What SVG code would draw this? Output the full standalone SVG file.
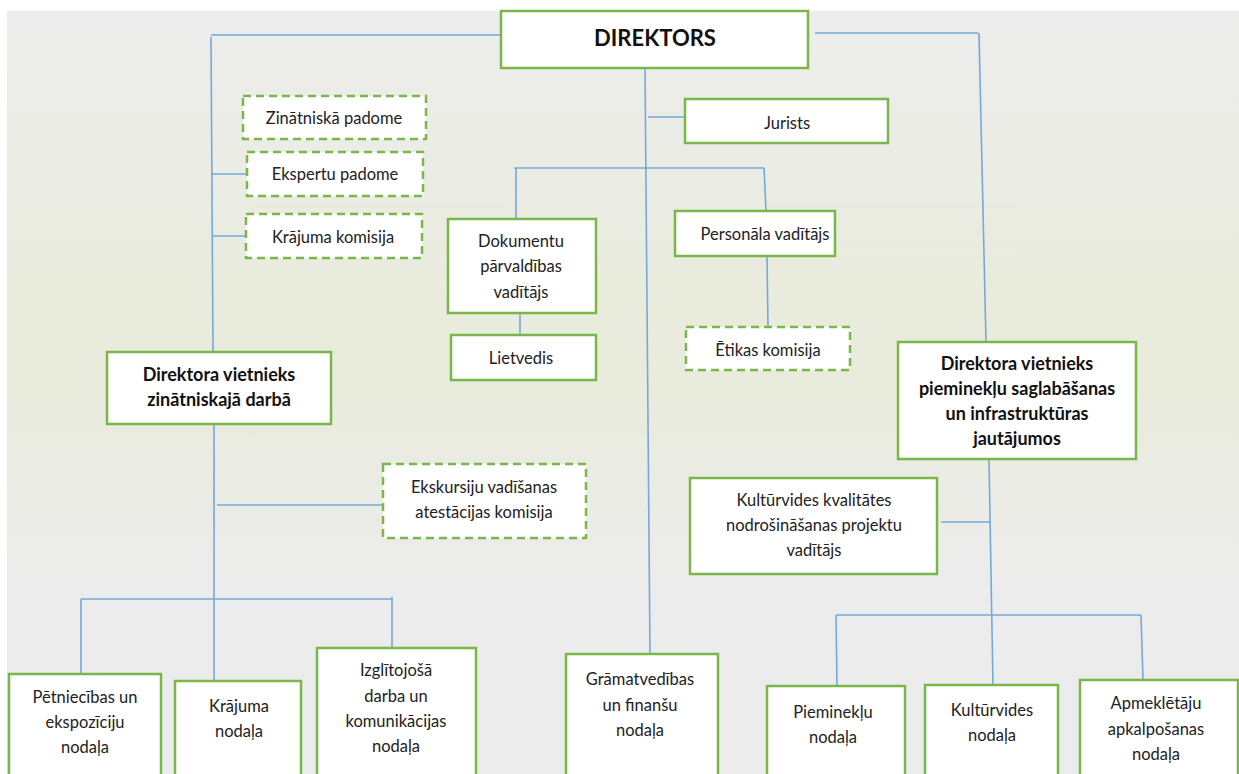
<svg xmlns="http://www.w3.org/2000/svg" width="1239" height="774" viewBox="0 0 1239 774">
<defs>
<linearGradient id="bg" x1="0" y1="0" x2="0" y2="1">
<stop offset="0" stop-color="#ededed"/>
<stop offset="0.38" stop-color="#e9ebdc"/>
<stop offset="0.5" stop-color="#e9ebdd"/>
<stop offset="0.75" stop-color="#ececec"/>
<stop offset="1" stop-color="#ececec"/>
</linearGradient>
<style>
.b{fill:#fff;stroke:#7ab648;stroke-width:2.5}
.d{fill:#fff;stroke:#7ab648;stroke-width:2.5;stroke-dasharray:8 5}
.t{font-family:Lato,"Open Sans","Liberation Sans",sans-serif;font-size:16.5px;fill:#222;text-anchor:middle}
.tb{font-family:Lato,"Open Sans","Liberation Sans",sans-serif;font-size:18px;font-weight:bold;fill:#111;text-anchor:middle}
.c{fill:none;stroke:#74a9da;stroke-width:1.6}
</style>
</defs>
<rect x="0" y="0" width="1239" height="774" fill="#fff"/>
<rect x="7" y="11" width="1232" height="763" fill="url(#bg)"/>
<g id="connectors">
<path class="c" d="M501 35 H211 M211 37 L213 352"/>
<path class="c" d="M211 174 H247 M212 236 H246"/>
<path class="c" d="M815 33 H978 M979 33 L986 342"/>
<path class="c" d="M645 68 L650 654 M648 117 H685"/>
<path class="c" d="M514 168 H764 M516 168 V219 M764 168 L766 211"/>
<path class="c" d="M520 313 V335 M767 256 L768 327"/>
<path class="c" d="M214 424 L214 680 M217 505 H383"/>
<path class="c" d="M81 599 H392 M81 599 V674 M392 597 V648"/>
<path class="c" d="M989 459 L993 686 M941 522 H990"/>
<path class="c" d="M836 615 H1141 M836 615 L837 686 M1141 615 L1143 680"/>
</g>
<g id="n-direktors"><rect class="b" x="501" y="11" width="307" height="57"/><text class="tb" x="655" y="46" style="font-size:22px">DIREKTORS</text></g>
<g id="n-zinpad"><rect class="d" x="243" y="96" width="183" height="43"/><text class="t" x="334" y="124">Zinātniskā padome</text></g>
<g id="n-ekspad"><rect class="d" x="247" y="152" width="176" height="44"/><text class="t" x="335" y="180">Ekspertu padome</text></g>
<g id="n-krkom"><rect class="d" x="246" y="214" width="176" height="44"/><text class="t" x="333" y="243">Krājuma komisija</text></g>
<g id="n-dok"><rect class="b" x="448" y="219" width="148" height="94"/><text class="t" x="521" y="247">Dokumentu</text><text class="t" x="521" y="272">pārvaldības</text><text class="t" x="521" y="298">vadītājs</text></g>
<g id="n-liet"><rect class="b" x="451" y="335" width="145" height="45"/><text class="t" x="521" y="364">Lietvedis</text></g>
<g id="n-jur"><rect class="b" x="685" y="99" width="203" height="44"/><text class="t" x="787" y="129">Jurists</text></g>
<g id="n-pers"><rect class="b" x="675" y="211" width="160" height="45"/><text class="t" x="765" y="240">Personāla vadītājs</text></g>
<g id="n-etik"><rect class="d" x="686" y="327" width="164" height="43"/><text class="t" x="768" y="356">Ētikas komisija</text></g>
<g id="n-vietzin"><rect class="b" x="107" y="352" width="224" height="72"/><text class="tb" x="219" y="381">Direktora vietnieks</text><text class="tb" x="219" y="406">zinātniskajā darbā</text></g>
<g id="n-vietpiem"><rect class="b" x="898" y="342" width="238" height="117"/><text class="tb" x="1017" y="370">Direktora vietnieks</text><text class="tb" x="1017" y="395">pieminekļu saglabāšanas</text><text class="tb" x="1017" y="420">un infrastruktūras</text><text class="tb" x="1017" y="445">jautājumos</text></g>
<g id="n-eksk"><rect class="d" x="383" y="464" width="203" height="74"/><text class="t" x="484" y="493">Ekskursiju vadīšanas</text><text class="t" x="484" y="518">atestācijas komisija</text></g>
<g id="n-kvp"><rect class="b" x="690" y="478" width="247" height="96"/><text class="t" x="814" y="506">Kultūrvides kvalitātes</text><text class="t" x="814" y="531">nodrošināšanas projektu</text><text class="t" x="814" y="556">vadītājs</text></g>
<g id="n-petn"><rect class="b" x="9" y="674" width="152" height="110"/><text class="t" x="85" y="703">Pētniecības un</text><text class="t" x="85" y="728">ekspozīciju</text><text class="t" x="85" y="753">nodaļa</text></g>
<g id="n-kraj"><rect class="b" x="175" y="681" width="126" height="103"/><text class="t" x="239" y="712">Krājuma</text><text class="t" x="239" y="737">nodaļa</text></g>
<g id="n-izgl"><rect class="b" x="317" y="648" width="159" height="136"/><text class="t" x="396" y="676">Izglītojošā</text><text class="t" x="396" y="702">darba un</text><text class="t" x="396" y="727">komunikācijas</text><text class="t" x="396" y="752">nodaļa</text></g>
<g id="n-gram"><rect class="b" x="566" y="654" width="152" height="130"/><text class="t" x="640" y="685">Grāmatvedības</text><text class="t" x="640" y="711">un finanšu</text><text class="t" x="640" y="736">nodaļa</text></g>
<g id="n-piem"><rect class="b" x="767" y="686" width="138" height="98"/><text class="t" x="833" y="718">Pieminekļu</text><text class="t" x="833" y="743">nodaļa</text></g>
<g id="n-kult"><rect class="b" x="925" y="685" width="133" height="99"/><text class="t" x="992" y="716">Kultūrvides</text><text class="t" x="992" y="741">nodaļa</text></g>
<g id="n-apm"><rect class="b" x="1080" y="680" width="158" height="104"/><text class="t" x="1156" y="709">Apmeklētāju</text><text class="t" x="1156" y="735">apkalpošanas</text><text class="t" x="1156" y="760">nodaļa</text></g>
</svg>
